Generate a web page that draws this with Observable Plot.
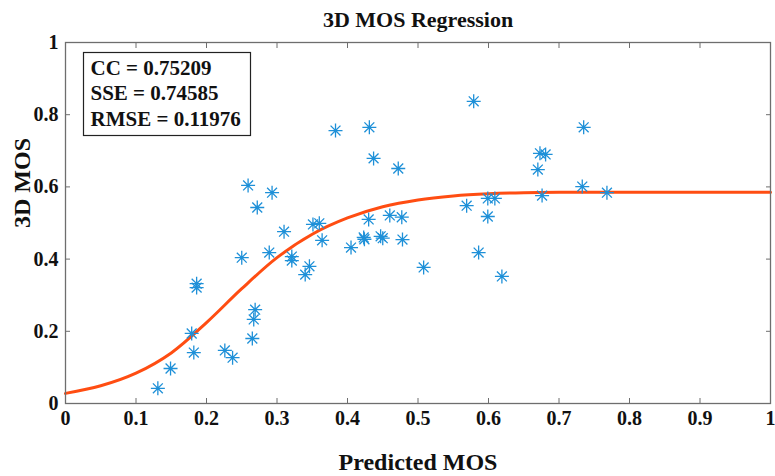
<!DOCTYPE html>
<html>
<head>
<meta charset="utf-8">
<script src="https://cdn.jsdelivr.net/npm/d3@7"></script>
<script src="https://cdn.jsdelivr.net/npm/@observablehq/plot@0.6"></script>
<style>
  html, body { margin: 0; padding: 0; background: #fff; }
  #chart svg { display: block; }
</style>
</head>
<body>
<div id="chart"></div>
<script>
// Scatter: predicted MOS vs 3D MOS
const predicted = [0.131,0.149,0.179,0.182,0.186,0.186,0.226,0.237,0.250,0.259,0.272,0.293,0.265,0.267,0.269,0.289,0.310,0.321,0.321,0.340,0.346,0.351,0.360,0.364,0.383,0.405,0.423,0.424,0.430,0.431,0.437,0.447,0.450,0.460,0.472,0.477,0.478,0.508,0.569,0.579,0.586,0.599,0.599,0.609,0.619,0.670,0.673,0.681,0.676,0.733,0.735,0.768];
const mos       = [0.042,0.097,0.194,0.141,0.332,0.321,0.147,0.127,0.404,0.604,0.543,0.584,0.180,0.233,0.260,0.418,0.476,0.407,0.396,0.357,0.380,0.496,0.499,0.452,0.756,0.432,0.460,0.455,0.510,0.765,0.679,0.463,0.458,0.521,0.651,0.516,0.454,0.377,0.548,0.837,0.418,0.518,0.568,0.568,0.352,0.648,0.693,0.690,0.576,0.601,0.765,0.584];

// Fitted regression curve
const fitX = [0,0.05,0.10,0.15,0.20,0.25,0.30,0.35,0.40,0.45,0.50,0.55,0.60,0.65,0.70,0.80,0.90,1.00];
const fitY = [0.028,0.049,0.084,0.140,0.224,0.318,0.404,0.469,0.514,0.545,0.564,0.575,0.581,0.584,0.585,0.585,0.585,0.585];

const stats = ["CC = 0.75209", "SSE = 0.74585", "RMSE = 0.11976"];
const xTicks = [0,0.1,0.2,0.3,0.4,0.5,0.6,0.7,0.8,0.9,1];
const yTicks = [0,0.2,0.4,0.6,0.8,1];
const titleText = "3D MOS Regression";
const xLabel = "Predicted MOS";
const yLabel = "3D MOS";

const points = predicted.map((p, i) => ({x: p, y: mos[i]}));
const fit = fitX.map((x, i) => ({x, y: fitY[i]}));

// MATLAB-style asterisk: plus + cross
const asterisk = {
  draw(context, size) {
    const r = Math.sqrt(size / Math.PI);
    const d = r * Math.SQRT1_2;
    context.moveTo(-r, 0); context.lineTo(r, 0);
    context.moveTo(0, -r); context.lineTo(0, r);
    context.moveTo(-d, -d); context.lineTo(d, d);
    context.moveTo(-d, d); context.lineTo(d, -d);
  }
};

const fmt = d => d === 0 ? "0" : d === 1 ? "1" : String(d);
const font = "'Liberation Serif', 'Times New Roman', serif";
const axisColor = "#6e6e6e";

const chart = Plot.plot({
  width: 775,
  height: 476,
  marginLeft: 65,
  marginRight: 5,
  marginTop: 42,
  marginBottom: 73,
  style: {fontFamily: font, fontWeight: "bold", color: "#111", background: "#fff"},
  x: {domain: [0, 1]},
  y: {domain: [0, 1]},
  marks: [
    Plot.line(fit, {x: "x", y: "y", stroke: "#ff4d12", strokeWidth: 3, curve: "catmull-rom"}),
    Plot.dot(points, {x: "x", y: "y", symbol: asterisk, r: 7, stroke: "#1e90d8", strokeWidth: 1.3, fill: "none"}),
    Plot.frame({stroke: axisColor, strokeWidth: 1.3}),
    Plot.axisX({anchor: "bottom", ticks: xTicks, tickSize: -5, tickPadding: 12, tickFormat: fmt, fontSize: 20, stroke: axisColor, fill: "#111", label: null}),
    Plot.axisX({anchor: "top", ticks: xTicks, tickSize: -5, tickFormat: () => "", stroke: axisColor, label: null}),
    Plot.axisY({anchor: "left", ticks: yTicks, tickSize: -5, tickPadding: 12, tickFormat: fmt, fontSize: 20, stroke: axisColor, fill: "#111", label: null}),
    Plot.axisY({anchor: "right", ticks: yTicks, tickSize: -5, tickFormat: () => "", stroke: axisColor, label: null}),
    // statistics box
    Plot.frame({stroke: "#222", strokeWidth: 1.2, insetLeft: 18, insetTop: 10, insetRight: 520, insetBottom: 268}),
    Plot.text([stats.join("\n")], {frameAnchor: "top-left", dx: 25, dy: 14, lineAnchor: "top", lineHeight: 1.22, fontSize: 21, fontWeight: "bold", fill: "#111", textAnchor: "start"}),
    // title and axis labels
    Plot.text([titleText], {frameAnchor: "top", dy: -16, lineAnchor: "bottom", fontSize: 22, fontWeight: "bold", fill: "#111"}),
    Plot.text([xLabel], {frameAnchor: "bottom", dy: 59, lineAnchor: "middle", fontSize: 24, fontWeight: "bold", fill: "#111"}),
    Plot.text([yLabel], {frameAnchor: "left", dx: -43, dy: 5, rotate: -90, lineAnchor: "middle", fontSize: 24, fontWeight: "bold", fill: "#111"})
  ]
});
document.getElementById("chart").appendChild(chart);
</script>
</body>
</html>
